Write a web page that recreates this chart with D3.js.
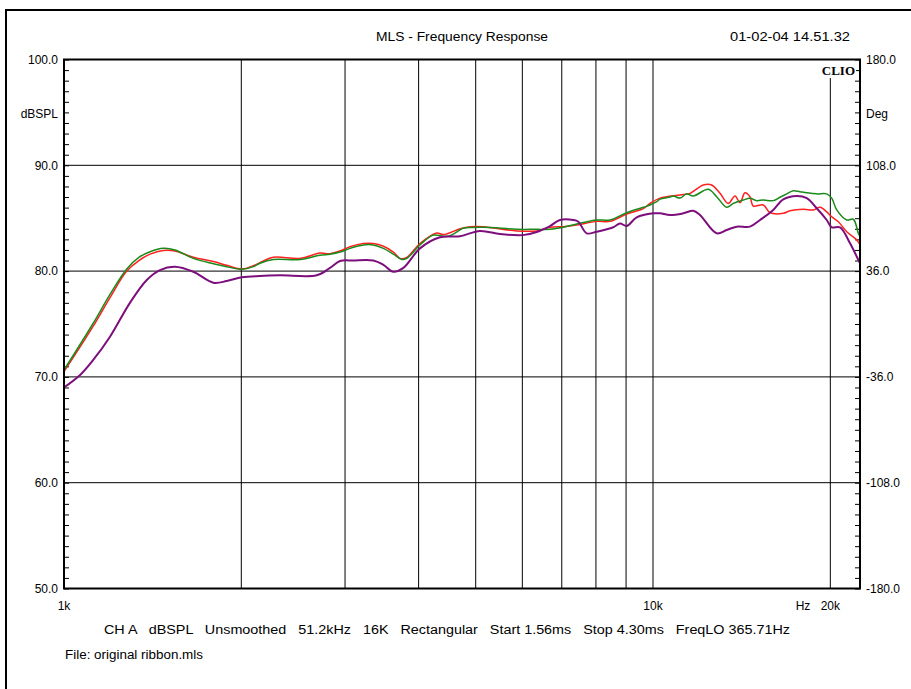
<!DOCTYPE html>
<html><head><meta charset="utf-8">
<script src="https://cdn.jsdelivr.net/npm/d3@7"></script>
<style>
body{margin:0;background:#fff}
svg{display:block;font-family:"Liberation Sans",Arial,sans-serif}
</style>
</head><body>
<svg id="c" width="911" height="689"></svg>
<script>
// ---------- data ----------
const dbTicks = [50, 60, 70, 80, 90, 100];
const degTicks = [-180, -108, -36, 36, 108, 180];
const freqGrid = [2000, 3000, 4000, 5000, 6000, 7000, 8000, 9000, 10000, 20000];
const freqLabels = [[1000, "1k"], [10000, "10k"], [20000, "20k"]];

const redSeries = [
  [1000,70.5],[1121,74.8],[1197,77.5],[1278,80.0],[1340,81.0],[1400,81.6],[1474,81.95],[1543,81.9],[1658,81.3],
  [1793,80.9],[1889,80.55],[2003,80.2],[2096,80.5],[2151,80.8],[2267,81.3],[2516,81.2],[2720,81.7],
  [2829,81.65],[2942,81.9],[3059,82.3],[3223,82.6],[3351,82.6],[3485,82.35],[3624,81.8],[3720,81.2],
  [3819,81.3],[4021,82.6],[4293,83.6],[4406,83.45],[4703,84.0],[4890,84.2],[5151,84.2],[5870,83.8],
  [6346,83.8],[6684,84.14],[7043,84.2],[7421,84.36],[8025,84.7],[8453,84.7],[9022,85.4],[9627,85.9],
  [9883,86.4],[10277,86.9],[11112,87.2],[11555,87.35],[12170,88.14],[12578,88.14],[12995,87.35],
  [13422,86.4],[13778,87.1],[14049,86.47],[14325,87.4],[14608,87.03],[14798,86.15],[15389,86.25],
  [15796,85.52],[16640,85.46],[17085,85.7],[17998,85.84],[18716,85.78],[19209,86.03],[19720,85.6],
  [20110,85.14],[20637,84.67],[21325,83.72],[22174,82.94],[22460,82.47]
];
const greenSeries = [
  [1000,70.65],[1121,75.07],[1197,77.8],[1278,80.2],[1340,81.3],[1400,81.83],[1474,82.15],[1543,82.0],
  [1658,81.2],[1793,80.7],[1889,80.42],[2003,80.17],[2096,80.42],[2151,80.74],[2267,81.1],[2516,81.1],
  [2720,81.5],[2829,81.6],[2942,81.8],[3059,82.15],[3223,82.47],[3351,82.47],[3485,82.15],[3624,81.6],
  [3745,81.1],[3819,81.2],[4021,82.47],[4236,83.4],[4406,83.3],[4523,83.35],[4703,83.9],[4764,84.05],
  [5151,84.14],[5870,83.95],[6346,83.95],[6684,83.95],[7043,84.14],[7421,84.45],[8025,84.83],[8453,84.83],
  [9022,85.52],[9627,86.03],[9883,86.25],[10146,86.56],[10277,86.8],[10687,87.0],[10827,87.1],[11112,86.9],
  [11407,87.3],[11704,87.1],[12411,87.73],[12826,87.03],[13339,86.03],[13686,86.4],[14230,86.72],
  [14608,86.88],[14997,86.66],[15389,86.72],[16002,86.66],[16427,86.98],[16866,87.3],[17307,87.6],
  [17767,87.5],[18239,87.4],[18963,87.3],[19720,87.3],[20110,86.9],[20508,85.78],[21325,84.83],
  [21884,84.9],[22317,83.57],[22460,83.3]
];
const purpleSeries = [
  [1000,69.0],[1065,70.18],[1121,71.6],[1197,73.8],[1294,77.0],[1382,79.16],[1455,80.1],[1543,80.42],
  [1658,79.94],[1793,78.9],[1889,79.06],[2003,79.41],[2151,79.54],[2327,79.6],[2686,79.6],[2829,80.3],
  [2942,80.95],[3099,81.0],[3351,81.0],[3485,80.6],[3624,79.94],[3769,80.3],[4021,82.15],[4349,83.2],
  [4703,83.3],[5085,83.8],[5499,83.5],[6009,83.4],[6346,83.7],[6684,84.26],[6952,84.83],[7324,84.83],
  [7468,84.67],[7717,83.57],[8025,83.72],[8562,84.14],[8790,84.5],[9022,84.26],[9382,85.08],[10012,85.46],
  [10277,85.46],[10687,85.3],[11256,85.46],[11704,85.7],[12014,85.3],[12826,83.57],[13339,83.89],
  [13870,84.2],[14608,84.2],[15192,84.83],[16002,85.78],[16640,86.78],[17539,87.1],[18239,86.9],
  [18963,85.94],[19720,84.83],[20110,84.14],[20775,84.14],[21603,82.63],[22317,81.05],[22460,80.73]
];

// ---------- layout ----------
const L = 64, R = 860, T = 59.5, B = 588.5;
const svg = d3.select("#c");
const x = d3.scaleLog().domain([1000, 22460]).range([L, R]);
const y = d3.scaleLinear().domain([50, 100]).range([B, T]);
const yDeg = d3.scaleLinear().domain([-180, 180]).range([B, T]);
const fmt = d => d.toFixed(1);

// outer frame
svg.append("rect").attr("x", 6).attr("y", 10).attr("width", 930).attr("height", 700)
  .attr("fill", "none").attr("stroke", "#000").attr("stroke-width", 2);

// grid
const g = svg.append("g");
g.selectAll(".vg").data(freqGrid).join("line")
  .attr("x1", d => x(d)).attr("x2", d => x(d))
  .attr("y1", d => d === 20000 ? 78 : T).attr("y2", B)
  .attr("stroke", "#000").attr("stroke-width", 1);
g.selectAll(".hg").data([60, 70, 80, 90]).join("line")
  .attr("x1", L).attr("x2", R).attr("y1", d => y(d)).attr("y2", d => y(d))
  .attr("stroke", "#000").attr("stroke-width", 1);

// minor ticks (inward) using d3 axes
const minor = d3.range(50, 101, 1);
svg.append("g").attr("transform", `translate(${L},0)`)
  .call(d3.axisRight(y).tickValues(minor).tickSize(5).tickFormat(""))
  .call(s => s.select(".domain").remove())
  .selectAll("line").attr("stroke", "#000");
svg.append("g").attr("transform", `translate(${R},0)`)
  .call(d3.axisLeft(y).tickValues(minor).tickSize(5).tickFormat(""))
  .call(s => s.select(".domain").remove())
  .selectAll("line").attr("stroke", "#000");

// curves
const line = d3.line().x(d => x(d[0])).y(d => y(d[1])).curve(d3.curveCatmullRom.alpha(0.5));
svg.append("defs").append("clipPath").attr("id", "clip")
  .append("rect").attr("x", L).attr("y", T).attr("width", R - L).attr("height", B - T);
const cg = svg.append("g").attr("clip-path", "url(#clip)");
cg.append("path").datum(redSeries).attr("d", line).attr("fill", "none")
  .attr("stroke", "#ff2020").attr("stroke-width", 1.5);
cg.append("path").datum(greenSeries).attr("d", line).attr("fill", "none")
  .attr("stroke", "#1a8a1a").attr("stroke-width", 1.5);
cg.append("path").datum(purpleSeries).attr("d", line).attr("fill", "none")
  .attr("stroke", "#7d0f7d").attr("stroke-width", 2);

// plot frame
svg.append("rect").attr("x", L).attr("y", T).attr("width", R - L).attr("height", B - T)
  .attr("fill", "none").attr("stroke", "#000").attr("stroke-width", 2);

// axis labels via d3 axes
const la = svg.append("g").attr("transform", `translate(${L - 1},0)`)
  .call(d3.axisLeft(y).tickValues(dbTicks).tickSize(0).tickPadding(5).tickFormat(fmt));
la.select(".domain").remove();
const ra = svg.append("g").attr("transform", `translate(${R + 1},0)`)
  .call(d3.axisRight(yDeg).tickValues(degTicks).tickSize(0).tickPadding(5).tickFormat(fmt));
ra.select(".domain").remove();
svg.selectAll(".tick text").attr("font-family", "Liberation Sans, Arial, sans-serif")
  .attr("font-size", 12).attr("fill", "#000");

const txt = (s, tx, ty, anchor, opts = {}) => {
  const t = svg.append("text").attr("x", tx).attr("y", ty).attr("text-anchor", anchor)
    .attr("font-size", opts.size || 12).attr("fill", "#000").style("white-space", "pre").text(s);
  if (opts.len) t.attr("textLength", opts.len).attr("lengthAdjust", "spacingAndGlyphs");
  if (opts.family) t.attr("font-family", opts.family);
  if (opts.weight) t.attr("font-weight", opts.weight);
  return t;
};
txt("dBSPL", L - 6, 118, "end");
txt("Deg", R + 6, 118, "start");

// bottom freq labels
freqLabels.forEach(([f, s]) => txt(s, x(f), 610, "middle"));
txt("Hz", 803, 610, "middle");

// titles
txt("MLS - Frequency Response", 462, 41, "middle", {len: 172});
txt("01-02-04 14.51.32", 850, 41, "end", {len: 120});
txt("CH A   dBSPL   Unsmoothed   51.2kHz   16K   Rectangular   Start 1.56ms   Stop 4.30ms   FreqLO 365.71Hz", 104, 634, "start", {len: 686});
txt("File: original ribbon.mls", 65, 659, "start", {len: 138});

// CLIO logo
svg.append("rect").attr("x", 812).attr("y", 62).attr("width", 44).attr("height", 15).attr("fill", "#fff");
txt("CLIO", 855, 75, "end", {family: "Liberation Serif, Times New Roman, serif", weight: "bold", size: 13});
</script>
</body></html>
